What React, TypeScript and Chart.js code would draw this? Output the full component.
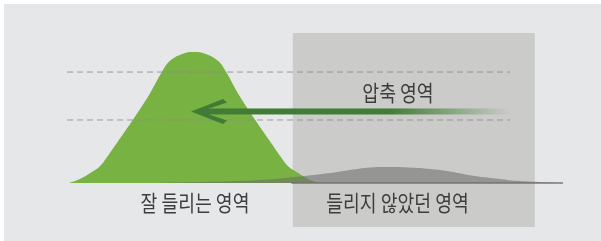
import React, { useEffect, useRef } from "react";
import { Chart, registerables } from "chart.js";

Chart.register(...registerables);

// Axis ranges (data units: x = position 0..100 along baseline, y = level 0..100)
const xRange = [-13.97, 107.69];
const yRange = [-44.27, 139.69];

// Well-heard region (green)
const heardX = [0, 2.2, 4.3, 6.3, 7.7, 10.1, 12.9, 16.2, 18.8, 20.4, 22.9, 25.3, 27.7, 30.2, 31.8, 34.4, 37.7, 40.5, 42.9, 44.3, 46.4, 48.4, 50.6];
const heardY = [0, 3.1, 7.6, 13, 19.8, 32.8, 48.1, 67.2, 84.7, 93.1, 98.5, 100, 98.5, 93.1, 84.7, 67.2, 48.1, 32.8, 19.8, 13, 7.6, 3.1, 0];

// Previously unheard region (gray)
const unheardX = [16.4, 26.5, 38.7, 46.8, 52.8, 56.9, 60.9, 65, 69, 73.1, 77.1, 82.2, 87.2, 91.3, 95.3, 100];
const unheardY = [0, 0.8, 2.3, 5, 7.6, 9.9, 11.8, 12.2, 11.8, 10.7, 8.8, 5.3, 3.1, 1.5, 0.8, 0];

// Baseline tail
const baseX = [45, 100];
const baseY = [0, 0];

// Dashed guide levels
const guideLevels = [84.7, 48.1];
const guideX = [-0.4, 89.3];

// Compression zone box
const zoneX = [45.3, 94.3];
const zoneY = [-33.6, 114.5];

// Compression arrow (tip -> tail), level
const arrowX = [24.7, 89.3];
const arrowY = 54.6;

// Labels
const labelTexts = ["압축 영역", "잘 들리는 영역", "들리지 않았던 영역"];
const labelX = [66.6, 25.5, 66.5];
const labelY = [68.7, -14.9, -14.9];

const pts = (xs: number[], ys: number[]) => xs.map((x, i) => ({ x, y: ys[i] }));

export default function App() {
  const ref = useRef<HTMLCanvasElement | null>(null);

  useEffect(() => {
    document.body.style.margin = "0";
    const canvas = ref.current!;

    const bgPlugin = {
      id: "bg",
      beforeDraw(chart: any) {
        const { ctx, width, height } = chart;
        ctx.save();
        ctx.fillStyle = "#ffffff";
        ctx.fillRect(0, 0, width, height);
        ctx.fillStyle = "#e6e7e9";
        ctx.fillRect(4, 4, width - 4, height - 4);
        ctx.restore();
      },
      beforeDatasetsDraw(chart: any) {
        const { ctx } = chart;
        const xs = chart.scales.x;
        const ys = chart.scales.y;
        const x0 = xs.getPixelForValue(zoneX[0]);
        const x1 = xs.getPixelForValue(zoneX[1]);
        const y0 = ys.getPixelForValue(zoneY[1]);
        const y1 = ys.getPixelForValue(zoneY[0]);
        ctx.save();
        ctx.fillStyle = "#cbcbc9";
        ctx.fillRect(x0, y0, x1 - x0, y1 - y0);
        ctx.restore();
      },
      afterDatasetsDraw(chart: any) {
        const { ctx } = chart;
        const xs = chart.scales.x;
        const ys = chart.scales.y;
        const tx = xs.getPixelForValue(arrowX[0]);
        const ex = xs.getPixelForValue(arrowX[1]);
        const ay = ys.getPixelForValue(arrowY);
        const grad = ctx.createLinearGradient(tx, 0, ex, 0);
        grad.addColorStop(0, "rgba(64,124,54,1)");
        grad.addColorStop(0.62, "rgba(64,124,54,1)");
        grad.addColorStop(1, "rgba(64,124,54,0)");
        ctx.save();
        ctx.fillStyle = grad;
        ctx.fillRect(tx + 16, ay - 3, ex - tx - 16, 6);
        ctx.beginPath();
        ctx.moveTo(tx, ay);
        ctx.lineTo(tx + 32, ay - 12.5);
        ctx.lineTo(tx + 36, ay - 9);
        ctx.lineTo(tx + 18, ay - 3);
        ctx.lineTo(tx + 18, ay + 3);
        ctx.lineTo(tx + 36, ay + 9);
        ctx.lineTo(tx + 32, ay + 12.5);
        ctx.closePath();
        ctx.fillStyle = "rgba(64,124,54,1)";
        ctx.fill();
        ctx.restore();
      },
      afterDraw(chart: any) {
        const { ctx } = chart;
        const xs = chart.scales.x;
        const ys = chart.scales.y;
        ctx.save();
        ctx.fillStyle = "#3d3d3d";
        ctx.font = '22px "Noto Sans CJK KR"';
        ctx.textAlign = "center";
        ctx.textBaseline = "middle";
        labelTexts.forEach((t, i) => {
          const px = xs.getPixelForValue(labelX[i]);
          const py = ys.getPixelForValue(labelY[i]);
          ctx.save();
          ctx.translate(px, py);
          ctx.scale(0.83, 1);
          ctx.fillText(t, 0, 0);
          ctx.restore();
        });
        ctx.restore();
      },
    };

    const datasets: any[] = [
      ...guideLevels.map((lv) => ({
        data: pts(guideX, [lv, lv]),
        borderColor: "rgba(140,140,140,0.85)",
        borderWidth: 1,
        borderDash: [6, 4],
        pointRadius: 0,
        fill: false,
        order: 0,
      })),
      {
        data: pts(baseX, baseY),
        borderColor: "rgba(110,110,110,0.9)",
        borderWidth: 1.5,
        pointRadius: 0,
        fill: false,
        order: 1,
      },
      {
        data: pts(unheardX, unheardY),
        borderWidth: 0,
        borderColor: "rgba(0,0,0,0)",
        backgroundColor: "rgba(105,105,105,0.55)",
        pointRadius: 0,
        fill: "origin",
        tension: 0.4,
        order: 2,
      },
      {
        data: pts(heardX, heardY),
        borderWidth: 0,
        borderColor: "rgba(0,0,0,0)",
        backgroundColor: "#77b243",
        pointRadius: 0,
        fill: "origin",
        tension: 0.4,
        order: 3,
      },
    ];

    const chart = new Chart(canvas, {
      type: "line",
      data: { datasets },
      options: {
        animation: false,
        responsive: false,
        devicePixelRatio: 1,
        layout: { padding: 0 },
        plugins: { legend: { display: false }, tooltip: { enabled: false } },
        scales: {
          x: { type: "linear", min: xRange[0], max: xRange[1], display: false },
          y: { type: "linear", min: yRange[0], max: yRange[1], display: false },
        },
      },
      plugins: [bgPlugin],
    } as any);

    return () => chart.destroy();
  }, []);

  return (
    <div style={{ position: "absolute", left: 0, top: 0, width: 601, height: 241 }}>
      <canvas ref={ref} width={601} height={241} style={{ display: "block" }} />
    </div>
  );
}
